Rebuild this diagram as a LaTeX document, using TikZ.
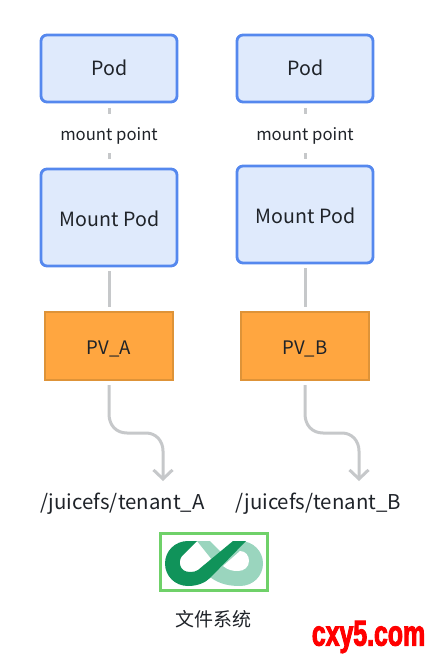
\documentclass[tikz,border=0pt]{standalone}
\usepackage{fontspec}
\usetikzlibrary{arrows.meta}
\setmainfont{Noto Sans CJK SC}
\newfontfamily\wmfont{Liberation Sans}[FakeStretch=0.69,FakeBold=2.5,BoldFont={Liberation Sans Bold}]
\tikzset{
  x=1pt,y=-1pt,
  podbox/.style={draw=blueE,fill=blueF,line width=2.8pt,rounded corners=6pt,anchor=north west,inner sep=0pt,outer sep=0pt,text=inkC,text depth=0pt,font=\fontsize{19.6}{22}\selectfont},
  pvbox/.style={draw=orgE,fill=orgF,line width=2pt,anchor=north west,inner sep=0pt,outer sep=0pt,text=inkC,text depth=0pt,text height=16pt,font=\fontsize{18.6}{22}\selectfont},
  dashlink/.style={draw=lineC,line width=3pt,shorten <=6pt,shorten >=6pt,dash pattern=on 6pt off 39pt on 6pt off 100pt},
  solidlink/.style={draw=lineC,line width=3pt,shorten <=5pt,shorten >=5pt},
  curvelink/.style={draw=lineC,line width=3pt,shorten <=5pt,-{Straight Barb[length=9pt,width=19pt,line width=3pt]}},
  lbl/.style={text=inkC,inner sep=0pt,font=\fontsize{16.7}{20}\selectfont},
  cjklbl/.style={text=inkC,inner sep=0pt,font=\fontsize{19}{22}\selectfont},
  pathlbl/.style={text=inkC,inner sep=0pt,font=\fontsize{20.4}{24}\selectfont},
}
\definecolor{blueE}{HTML}{5588EE}
\definecolor{blueF}{HTML}{DFEAFC}
\definecolor{orgE}{HTML}{DE9338}
\definecolor{orgF}{HTML}{FFA640}
\definecolor{lineC}{HTML}{C6C8CA}
\definecolor{inkC}{HTML}{1F2329}
\definecolor{frameC}{HTML}{6FD169}
\definecolor{darkG}{HTML}{10935A}
\definecolor{lightG}{HTML}{9AD5BE}
\begin{document}
\begin{tikzpicture}
\useasboundingbox (0,0) rectangle (430,658);
% boxes
\node[podbox,text height=15pt,minimum width=136pt,minimum height=67pt] (podA) at (41,35) {\hspace{1pt}Pod};
\node[podbox,text height=17pt,minimum width=136pt,minimum height=97pt] (mntA) at (41,169) {\hspace{1pt}Mount Pod};
\node[pvbox,minimum width=128pt,minimum height=68pt] (pvA) at (45,312) {PV\_A};
\node[podbox,text height=15pt,minimum width=136pt,minimum height=67pt] (podB) at (237,35) {\hspace{1pt}Pod};
\node[podbox,text height=17pt,minimum width=136pt,minimum height=97pt] (mntB) at (237,166) {\hspace{1pt}Mount Pod};
\node[pvbox,minimum width=128pt,minimum height=68pt] (pvB) at (241,312) {PV\_B};
% text
\node[lbl] (mpA) at (109,136) {mount point};
\node[lbl] (mpB) at (305,136) {mount point};
\node[pathlbl] (tenA) at (122.5,504) {/juicefs/tenant\_A};
\node[pathlbl] (tenB) at (318.5,504) {/juicefs/tenant\_B};
% connectors
\draw[dashlink] (podA) -- (mntA);
\draw[dashlink] (podB) -- (mntB);
\draw[solidlink] (mntA) -- (pvA);
\draw[solidlink] (mntB) -- (pvB);
\coordinate (endA) at (163,481);
\coordinate (endB) at (359,481);
\draw[curvelink] (pvA.south) -- (109,414) .. controls (109,425) and (116,433) .. (127,433) -- (146,433) .. controls (156,433) and (163,441) .. (163,451) -- (endA);
\draw[curvelink] (pvB.south) -- (305,414) .. controls (305,425) and (312,433) .. (323,433) -- (342,433) .. controls (352,433) and (359,441) .. (359,451) -- (endB);
% logo
\draw[frameC,line width=2.8pt] (160.5,533.5) rectangle (267.5,590.5);
\fill[lightG] (197,541) -- (210,541) -- (221,552) -- (240,541)
  .. controls (253,541) and (263,551) .. (263,563.5)
  .. controls (263,576) and (253,586) .. (240,586)
  .. controls (226,586) and (216,583) .. (205,573)
  -- (213,561) -- cycle;
\fill[white] (223,566) -- (240,551)
  .. controls (246,551) and (249,556) .. (249,561)
  .. controls (249,567) and (244,571) .. (238,571)
  .. controls (232,571) and (228,570) .. (223,566) -- cycle;
\fill[darkG] (197,541) -- (182,556)
  .. controls (178,561) and (179,572) .. (190,572)
  .. controls (193,572) and (196,571.5) .. (198,570)
  -- (233,541) -- (246,541) -- (210,578)
  .. controls (205,583) and (197,586) .. (188,586)
  .. controls (175,586) and (165,576) .. (165,563.5)
  .. controls (165,551) and (175,541) .. (188,541) -- cycle;
\node[cjklbl] (fs) at (213.5,619) {文件系统};
\node[text=red,inner sep=0pt,font=\wmfont\bfseries\fontsize{36}{40}\selectfont] (wm) at (368.5,637) {cxy5.com};
\end{tikzpicture}
\end{document}
